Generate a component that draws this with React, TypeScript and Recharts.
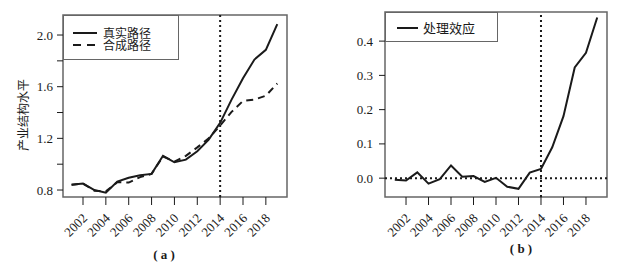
import React from 'react';
import { LineChart, Line, XAxis, YAxis, ReferenceLine, ReferenceArea } from 'recharts';

const years = [2001, 2002, 2003, 2004, 2005, 2006, 2007, 2008, 2009, 2010, 2011, 2012, 2013, 2014, 2015, 2016, 2017, 2018, 2019];
const realPath = [0.84, 0.85, 0.8, 0.78, 0.865, 0.895, 0.915, 0.925, 1.065, 1.015, 1.035, 1.1, 1.19, 1.32, 1.5, 1.665, 1.81, 1.885, 2.085];
const synthPath = [0.84, 0.85, 0.795, 0.79, 0.86, 0.858, 0.9, 0.925, 1.06, 1.02, 1.065, 1.13, 1.2, 1.3, 1.405, 1.49, 1.5, 1.53, 1.625];
const effect = [-0.005, -0.007, 0.017, -0.016, -0.003, 0.037, 0.004, 0.006, -0.011, 0.001, -0.025, -0.031, 0.016, 0.027, 0.09, 0.181, 0.323, 0.366, 0.469];

const xTicks = [2002, 2004, 2006, 2008, 2010, 2012, 2014, 2016, 2018];
const leftYTicks = [0.8, 1.0, 1.2, 1.4, 1.6, 1.8, 2.0];
const leftYLabels = [0.8, 1.2, 1.6, 2.0];
const rightYTicks = [0, 0.1, 0.2, 0.3, 0.4];

const legendLeft = ['真实路径', '合成路径'];
const legendRight = ['处理效应'];
const yLabelLeft = '产业结构水平';
const captions = ['( a )', '( b )'];

const leftData = years.map((y, i) => ({ year: y, real: realPath[i], synth: synthPath[i] }));
const rightData = years.map((y, i) => ({ year: y, effect: effect[i] }));

const SERIF = '"Liberation Serif", "Times New Roman", serif';
const CJK = '"Noto Sans CJK SC", sans-serif';
const INK = '#1a1a1a';
const BOX = '#666';

const XTick = (props: any) => {
  const { x, y, payload } = props;
  const ax = x + 5;
  const ay = y + 12;
  return (
    <text x={ax} y={ay} textAnchor="end" transform={`rotate(-45, ${ax}, ${ay})`} style={{ fontFamily: SERIF }} fontSize={13} fill={INK}>
      {payload.value}
    </text>
  );
};

const LeftYTick = (props: any) => {
  const { x, y, payload } = props;
  if (!leftYLabels.some((v) => Math.abs(v - payload.value) < 1e-6)) return null;
  return (
    <text x={x} y={y + 4.5} textAnchor="end" style={{ fontFamily: SERIF }} fontSize={13} fill={INK}>
      {payload.value.toFixed(1)}
    </text>
  );
};

const RightYTick = (props: any) => {
  const { x, y, payload } = props;
  return (
    <text x={x} y={y + 4.5} textAnchor="end" style={{ fontFamily: SERIF }} fontSize={13} fill={INK}>
      {payload.value.toFixed(1)}
    </text>
  );
};

const LegendBox = ({ left, top, width, height, items, dashes, rowsY, lineX, lineW, textX, fontSize }: any) => (
  <div
    style={{
      position: 'absolute', left, top, width, height, boxSizing: 'border-box',
      border: `1.5px solid ${BOX}`, background: '#fff',
    }}
  >
    {items.map((t: string, i: number) => (
      <React.Fragment key={t}>
        <svg width={lineW} height={6} style={{ position: 'absolute', left: lineX, top: rowsY[i] - 3, display: 'block' }}>
          <line x1={0} y1={3} x2={lineW} y2={3} stroke={INK} strokeWidth={2} strokeDasharray={dashes[i] || undefined} />
        </svg>
        <span style={{ position: 'absolute', left: textX, top: rowsY[i] - 6, fontFamily: CJK, fontSize, color: INK, lineHeight: '12px', whiteSpace: 'nowrap' }}>{t}</span>
      </React.Fragment>
    ))}
  </div>
);

export default function App() {
  const xDomainL: [number, number] = [2000.25, 2019.85];
  const yDomainL: [number, number] = [0.746, 2.155];
  const xDomainR: [number, number] = [2000.13, 2019.87];
  const yDomainR: [number, number] = [-0.055, 0.485];
  return (
    <div style={{ position: 'absolute', left: 0, top: 0, width: 627, height: 274, background: '#fff' }}>
      <div style={{ position: 'absolute', left: 0, top: 0 }}>
        <LineChart width={320} height={274} data={leftData} margin={{ top: 15, right: 33, bottom: 0, left: 0 }}>
          <XAxis dataKey="year" type="number" domain={xDomainL} ticks={xTicks} allowDataOverflow height={77}
            axisLine={false} tickSize={8} tickLine={{ stroke: INK, strokeWidth: 1 }} tick={<XTick />} interval={0} />
          <YAxis type="number" domain={yDomainL} ticks={leftYTicks} allowDataOverflow width={63}
            axisLine={false} tickSize={6} tickMargin={4} tickLine={{ stroke: INK, strokeWidth: 1 }} tick={<LeftYTick />} interval={0} />
          <ReferenceArea x1={xDomainL[0]} x2={xDomainL[1]} y1={yDomainL[0]} y2={yDomainL[1]} fill="none" stroke={BOX} strokeWidth={1.5} ifOverflow="visible" />
          <ReferenceLine x={2014} stroke={INK} strokeWidth={2} strokeDasharray="2 3" />
          <Line type="linear" dataKey="synth" stroke={INK} strokeWidth={2} strokeDasharray="7 5" dot={false} isAnimationActive={false} />
          <Line type="linear" dataKey="real" stroke={INK} strokeWidth={2} dot={false} isAnimationActive={false} />
        </LineChart>
      </div>
      <div style={{ position: 'absolute', left: 320, top: 0 }}>
        <LineChart width={307} height={274} data={rightData} margin={{ top: 12, right: 20, bottom: 0, left: 0 }}>
          <XAxis dataKey="year" type="number" domain={xDomainR} ticks={xTicks} allowDataOverflow height={77}
            axisLine={false} tickSize={8} tickLine={{ stroke: INK, strokeWidth: 1 }} tick={<XTick />} interval={0} />
          <YAxis type="number" domain={yDomainR} ticks={rightYTicks} allowDataOverflow width={65}
            axisLine={false} tickSize={6} tickMargin={6} tickLine={{ stroke: INK, strokeWidth: 1 }} tick={<RightYTick />} interval={0} />
          <ReferenceArea x1={xDomainR[0]} x2={xDomainR[1]} y1={yDomainR[0]} y2={yDomainR[1]} fill="none" stroke={BOX} strokeWidth={1.5} ifOverflow="visible" />
          <ReferenceLine y={0} stroke={INK} strokeWidth={2} strokeDasharray="2 3" />
          <ReferenceLine x={2014} stroke={INK} strokeWidth={2} strokeDasharray="2 3" />
          <Line type="linear" dataKey="effect" stroke={INK} strokeWidth={2} dot={false} isAnimationActive={false} />
        </LineChart>
      </div>
      <LegendBox left={63} top={15} width={116} height={45} items={legendLeft} dashes={[null, '8 6']}
        rowsY={[17, 29]} lineX={9} lineW={24} textX={39} fontSize={12} />
      <LegendBox left={385} top={12} width={113} height={30} items={legendRight} dashes={[null]}
        rowsY={[15]} lineX={11} lineW={21} textX={37} fontSize={13} />
      <div style={{ position: 'absolute', left: 21.5, top: 115, transform: 'translate(-50%, -50%) rotate(-90deg)', whiteSpace: 'nowrap', fontFamily: CJK, fontSize: 12, color: INK, lineHeight: '13px' }}>
        {yLabelLeft}
      </div>
      <div style={{ position: 'absolute', left: 164, top: 255, transform: 'translate(-50%, -50%)', whiteSpace: 'pre', fontFamily: SERIF, fontSize: 13, fontWeight: 'bold', color: INK }}>
        {captions[0]}
      </div>
      <div style={{ position: 'absolute', left: 521, top: 249, transform: 'translate(-50%, -50%)', whiteSpace: 'pre', fontFamily: SERIF, fontSize: 13, fontWeight: 'bold', color: INK }}>
        {captions[1]}
      </div>
    </div>
  );
}
